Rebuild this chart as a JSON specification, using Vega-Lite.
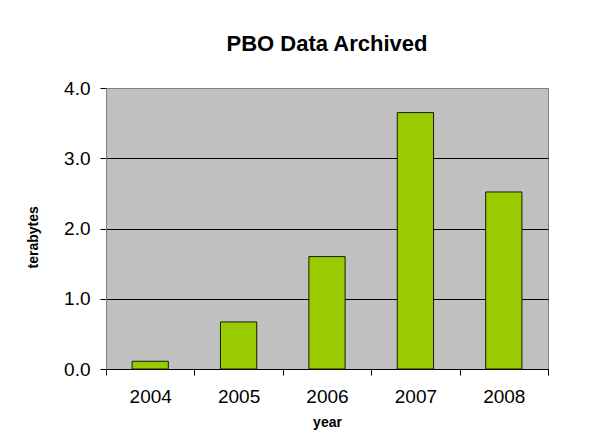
{
  "$schema": "https://vega.github.io/schema/vega-lite/v6.json",
  "width": 442,
  "height": 281,
  "autosize": {"type": "none"},
  "padding": {"left": 106, "top": 88, "right": 46, "bottom": 72},
  "background": "white",
  "title": {
    "text": "PBO Data Archived",
    "font": "Liberation Sans",
    "fontSize": 22,
    "fontWeight": "bold",
    "color": "black",
    "anchor": "middle",
    "baseline": "alphabetic",
    "offset": 6
  },
  "data": {
    "values": [
      {"year": "2004", "terabytes": 0.11},
      {"year": "2005", "terabytes": 0.67},
      {"year": "2006", "terabytes": 1.6},
      {"year": "2007", "terabytes": 3.65},
      {"year": "2008", "terabytes": 2.52}
    ]
  },
  "mark": {"type": "bar", "fill": "#99CC00", "stroke": "#1a1a00", "strokeWidth": 1, "width": {"band": 0.41}},
  "encoding": {
    "x": {
      "field": "year",
      "type": "ordinal",
      "scale": {"paddingInner": 0, "paddingOuter": 0},
      "axis": {
        "title": "year",
        "labelAngle": 0,
        "labelFont": "Liberation Sans",
        "labelFontSize": 19,
        "labelColor": "black",
        "labelBaseline": "alphabetic",
        "labelPadding": 27,
        "ticks": true,
        "tickSize": 6,
        "tickWidth": 1,
        "tickColor": "black",
        "tickBand": "extent",
        "domainColor": "black",
        "grid": false,
        "titleFont": "Liberation Sans",
        "titleFontSize": 14,
        "titleFontWeight": "bold",
        "titleColor": "black",
        "titleBaseline": "alphabetic",
        "titleY": 57
      }
    },
    "y": {
      "field": "terabytes",
      "type": "quantitative",
      "scale": {"domain": [0, 4], "nice": false},
      "axis": {
        "title": "terabytes",
        "values": [0, 1, 2, 3, 4],
        "format": ".1f",
        "labelFont": "Liberation Sans",
        "labelFontSize": 19,
        "labelColor": "black",
        "labelPadding": 10,
        "tickSize": 6,
        "tickColor": "black",
        "domainColor": "#808080",
        "grid": true,
        "gridColor": {"condition": {"test": "datum.value >= 4", "value": "transparent"}, "value": "black"},
        "gridOpacity": 1,
        "titleFont": "Liberation Sans",
        "titleFontSize": 14,
        "titleFontWeight": "bold",
        "titleColor": "black",
        "titleAngle": -90,
        "titleAlign": "left",
        "titleBaseline": "alphabetic",
        "titleX": -69,
        "titleY": 180
      }
    }
  },
  "config": {
    "view": {"fill": "#C0C0C0", "stroke": "#808080", "strokeWidth": 1}
  }
}
